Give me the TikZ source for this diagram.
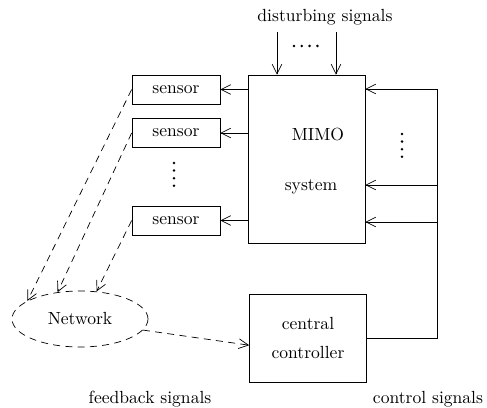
\documentclass[tikz,border=0pt]{standalone}
\usetikzlibrary{shapes.geometric, arrows.meta}

\begin{document}
\begin{tikzpicture}[x=0.02cm, y=-0.02cm, >={Straight Barb[length=5.5pt, width=5.5pt]},
        box/.style={draw, inner sep=0pt},
        sensorbox/.style={box, minimum width=1.76cm, minimum height=0.58cm},
        netlink/.style={->, dash pattern=on 4pt off 3pt}]
    \useasboundingbox (0,0) rectangle (487,408);
    % blocks
    \node[box, minimum width=2.34cm, minimum height=3.36cm] (mimo) at (306.5,159) {};
    \node (mimotxt) at (318,135) {MIMO};
    \node (systxt) at (311,187) {system};
    \node[sensorbox] (s1) at (176,89.5) {sensor};
    \node[sensorbox] (s2) at (176,133) {sensor};
    \node[sensorbox] (s3) at (176,220.5) {sensor};
    \node[box, minimum width=2.34cm, minimum height=1.76cm, align=center] (ctrl) at (308,338) {central\\[5pt]controller};
    \node[draw, ellipse, dash pattern=on 4pt off 3pt, minimum width=2.72cm, minimum height=1.12cm, inner sep=0pt] (net) at (80,319) {Network};
    % labels
    \node (dist) at (325,17) {disturbing signals};
    \node (fbl) at (150,399) {feedback signals};
    \node (ctl) at (428,399) {control signals};
    % disturbances
    \coordinate (d1) at (277,32);
    \coordinate (d2) at (336,32);
    \draw[->] (d1) -- (d1 |- mimo.north);
    \draw[->] (d2) -- (d2 |- mimo.north);
    \foreach \i in {0,...,3}
        \fill (294+\i*7.8,46) circle (1.4);
    % outputs to sensors
    \draw[->] (mimo.west |- s1) -- (s1.east);
    \draw[->] (mimo.west |- s2) -- (s2.east);
    \draw[->] (mimo.west |- s3) -- (s3.east);
    \foreach \i in {0,...,3}
        \fill (174,163+\i*7.6) circle (1.4);
    % control signals
    \coordinate (u1) at (437,89);
    \coordinate (u2) at (437,185);
    \coordinate (u3) at (437,222);
    \draw[->] (ctrl.east) -| (u1) -- (mimo.east |- u1);
    \draw[->] (u2) -- (mimo.east |- u2);
    \draw[->] (u3) -- (mimo.east |- u3);
    \foreach \i in {0,...,3}
        \fill (402,134+\i*7.6) circle (1.4);
    % network
    \draw[netlink] (s1.west) -- (net.161);
    \draw[netlink] (s2.west) -- (net.130);
    \draw[netlink] (s3.west) -- (net.59);
    \draw[netlink] (net.-10) -- (ctrl.187);
\end{tikzpicture}
\end{document}
